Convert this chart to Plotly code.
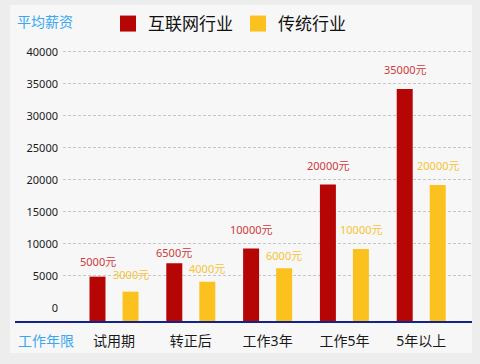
import plotly.graph_objects as go

# ---- data ----
categories = ["试用期", "转正后", "工作3年", "工作5年", "5年以上"]
series_names = ["互联网行业", "传统行业"]
internet_values = [4900, 7000, 9300, 19300, 34200]      # bar heights as drawn
traditional_values = [2550, 4100, 6200, 9200, 19200]    # bar heights as drawn
internet_labels = [5000, 6500, 10000, 20000, 35000]     # value labels
traditional_labels = [3000, 4000, 6000, 10000, 20000]   # value labels
y_ticks = [0, 5000, 10000, 15000, 20000, 25000, 30000, 35000, 40000]
y_title = "平均薪资"
x_title = "工作年限"

# ---- style ----
RED = "#b60505"
YELLOW = "#fbc21f"
RED_TXT = "#cc3a3a"
YEL_TXT = "#f6c334"
BLUE_TXT = "#3aa8ee"
FONT = "Noto Sans, Noto Sans CJK SC, sans-serif"
Y_MIN, Y_MAX = -2190, 42030

W, H = 480, 364
ML, MR, MT, MB = 63, 7, 39, 42
PW, PH = W - ML - MR, H - MT - MB


def px_x(p):
    return (p - ML) / PW


def px_y(p):
    return (H - MB - p) / PH


fig = go.Figure()
fig.add_trace(go.Bar(
    x=categories, y=[v - Y_MIN for v in internet_values], base=Y_MIN,
    marker=dict(color=RED, line=dict(width=0)), name=series_names[0],
    showlegend=False, hoverinfo="skip"))
fig.add_trace(go.Bar(
    x=categories, y=[v - Y_MIN for v in traditional_values], base=Y_MIN,
    marker=dict(color=YELLOW, line=dict(width=0)), name=series_names[1],
    showlegend=False, hoverinfo="skip"))

# legend entries (square swatches)
for name, col in zip(series_names, [RED, YELLOW]):
    fig.add_trace(go.Scatter(x=[None], y=[None], mode="markers", name=name,
                             marker=dict(symbol="square", size=16, color=col)))

ann = []
for cat, v in zip(categories, internet_labels):
    ann.append(dict(x=cat, y=v, xref="x", yref="y", text=f"{v}元", showarrow=False,
                    xshift=-16.5, yshift=14, font=dict(size=11, color=RED_TXT, family=FONT)))
for cat, v in zip(categories, traditional_labels):
    ann.append(dict(x=cat, y=v, xref="x", yref="y", text=f"{v}元", showarrow=False,
                    xshift=16.5, yshift=14, font=dict(size=11, color=YEL_TXT, family=FONT)))
ann.append(dict(x=px_x(15), y=px_y(21.5), xref="paper", yref="paper", text=y_title,
                showarrow=False, xanchor="left", yanchor="middle",
                font=dict(size=14, color=BLUE_TXT, family=FONT)))
ann.append(dict(x=px_x(16), y=px_y(340.5), xref="paper", yref="paper", text=x_title,
                showarrow=False, xanchor="left", yanchor="middle",
                font=dict(size=14, color=BLUE_TXT, family=FONT)))

shapes = [
    dict(type="rect", xref="paper", yref="paper", x0=px_x(10), x1=px_x(472),
         y0=px_y(353), y1=px_y(5), fillcolor="#f7f7f7", line=dict(width=0), layer="below"),
    dict(type="line", xref="paper", yref="paper", x0=px_x(15), x1=px_x(472),
         y0=0, y1=0, line=dict(color="#13238c", width=2)),
]

fig.update_layout(
    width=W, height=H,
    margin=dict(l=ML, r=MR, t=MT, b=MB, pad=0, autoexpand=False),
    paper_bgcolor="#ededed", plot_bgcolor="rgba(0,0,0,0)",
    font=dict(family=FONT, color="#222222"),
    barmode="group", bargap=0.14, bargroupgap=0.516,
    showlegend=True,
    legend=dict(orientation="h", x=px_x(108), y=px_y(24), xanchor="left", yanchor="middle",
                font=dict(size=17, color="#111111", family=FONT),
                bgcolor="rgba(0,0,0,0)", itemclick=False, itemdoubleclick=False),
    annotations=ann, shapes=shapes,
    xaxis=dict(type="category", range=[-0.664, 4.674], showgrid=False, showline=False,
               zeroline=False, ticks="", automargin=False, ticklabelstandoff=9,
               tickfont=dict(size=14, color="#1a1a1a", family=FONT)),
    yaxis=dict(range=[Y_MIN, Y_MAX], tickmode="array", tickvals=y_ticks, tickformat="d",
               showgrid=True, gridcolor="#c6c6c6", griddash="3px,2px", gridwidth=1,
               zeroline=True, zerolinecolor="rgba(0,0,0,0)", showline=False, ticks="",
               automargin=False, ticklabelstandoff=4,
               tickfont=dict(size=11, color="#1a1a1a", family=FONT)),
)

fig.write_html(
    "out.html",
    config={"displayModeBar": False},
    post_script="document.body.style.margin='0';document.body.style.background='#ededed';",
)
